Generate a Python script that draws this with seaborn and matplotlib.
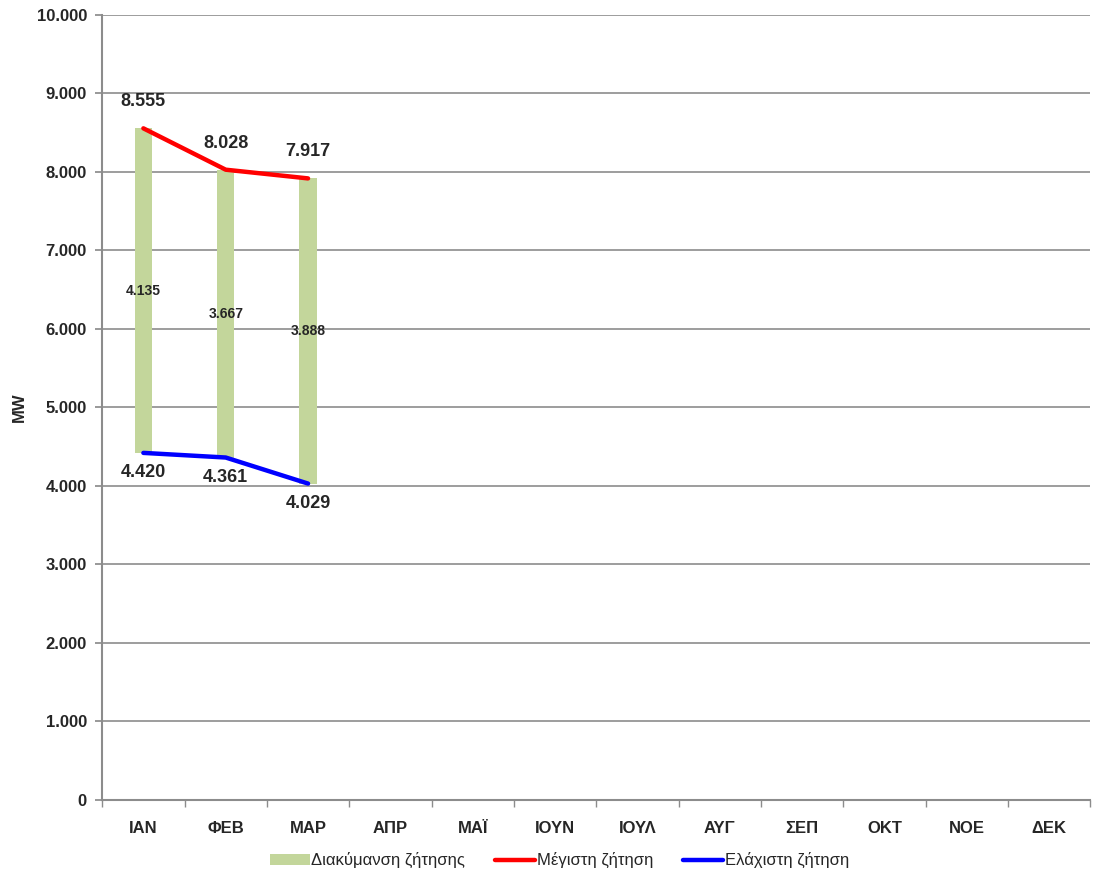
import matplotlib
matplotlib.use("Agg")
from matplotlib import pyplot as plt
from matplotlib.ticker import FuncFormatter, FixedLocator
import numpy as np
import pandas as pd
import seaborn as sns

months = ['ΙΑΝ', 'ΦΕΒ', 'ΜΑΡ', 'ΑΠΡ', 'ΜΑΪ', 'ΙΟΥΝ', 'ΙΟΥΛ', 'ΑΥΓ', 'ΣΕΠ', 'ΟΚΤ', 'ΝΟΕ', 'ΔΕΚ']
data_months = ['ΙΑΝ', 'ΦΕΒ', 'ΜΑΡ']
max_demand = [8555, 8028, 7917]
min_demand = [4420, 4361, 4029]
demand_range = [4135, 3667, 3888]

GREEN = '#C3D69B'
GRID = '#8C8C8C'


def fmt_gr(v):
    # Greek thousands separator
    return f'{int(round(v)):,}'.replace(',', '.')


sns.set_theme(style='white')
plt.rcParams['font.family'] = ['Liberation Sans', 'DejaVu Sans']

df = pd.DataFrame({'month': data_months, 'max': max_demand,
                   'min': min_demand, 'range': demand_range})

fig = plt.figure(figsize=(10.99, 8.77), dpi=100)
ax = fig.add_axes([0.093, 0.088, 0.899, 0.895])

sns.barplot(data=df, x='month', y='range', order=months, color=GREEN,
            saturation=1, width=0.21, ax=ax, label='Διακύμανση ζήτησης', zorder=2)
# floating bars: shift each bar so it spans min -> max
for p, lo in zip(ax.patches, df['min']):
    p.set_y(lo)
    p.set_edgecolor('none')

xs = np.arange(len(data_months))
sns.lineplot(x=xs, y=df['max'], color='#FF0000', linewidth=3.2, ax=ax,
             label='Μέγιστη ζήτηση', zorder=3)
sns.lineplot(x=xs, y=df['min'], color='#0000FF', linewidth=3.2, ax=ax,
             label='Ελάχιστη ζήτηση', zorder=3)

# labels
for x, hi, lo, rg in zip(xs, df['max'], df['min'], df['range']):
    ax.annotate(fmt_gr(hi), (x, hi), xytext=(0, 13), textcoords='offset points',
                ha='center', va='bottom', fontsize=13, fontweight='bold')
    ax.annotate(fmt_gr(lo), (x, lo), xytext=(0, -8), textcoords='offset points',
                ha='center', va='top', fontsize=13, fontweight='bold')
    ax.text(x, lo + rg / 2, fmt_gr(rg), ha='center', va='center',
            fontsize=10, fontweight='bold')

ax.set_ylim(0, 10000)
ax.set_xlim(-0.5, len(months) - 0.5)
ax.yaxis.set_major_locator(FixedLocator(np.arange(0, 10001, 1000)))
ax.yaxis.set_major_formatter(FuncFormatter(lambda v, _: fmt_gr(v)))
ax.grid(axis='y', color=GRID, linewidth=1.2, zorder=0)
ax.set_axisbelow(True)

for side in ['top', 'right']:
    ax.spines[side].set_visible(False)
for side in ['left', 'bottom']:
    ax.spines[side].set_color(GRID)
    ax.spines[side].set_linewidth(1.5)

ax.tick_params(axis='y', which='major', direction='out', length=5, color=GRID,
               labelsize=12, pad=6, left=True)
ax.set_xticks(np.arange(len(months)))
ax.set_xticklabels(months)
ax.tick_params(axis='x', which='major', length=0, labelsize=12, pad=15)
ax.set_xticks(np.arange(-0.5, len(months), 1), minor=True)
ax.tick_params(axis='x', which='minor', direction='out', length=5, color=GRID, bottom=True)
for lbl in ax.get_xticklabels() + ax.get_yticklabels():
    lbl.set_fontweight('bold')

ax.set_xlabel('')
ax.set_ylabel('MW', fontsize=12, fontweight='bold', labelpad=7)

handles, labels = ax.get_legend_handles_labels()
order = [labels.index(l) for l in ['Διακύμανση ζήτησης', 'Μέγιστη ζήτηση', 'Ελάχιστη ζήτηση']]
ax.legend([handles[i] for i in order], [labels[i] for i in order],
          loc='center', bbox_to_anchor=(0.509, 0.019), bbox_transform=fig.transFigure,
          ncol=3, frameon=False, fontsize=12, handlelength=2.4, handleheight=0.6,
          columnspacing=1.8, handletextpad=0.1)

fig.savefig('out.png', dpi=100)
